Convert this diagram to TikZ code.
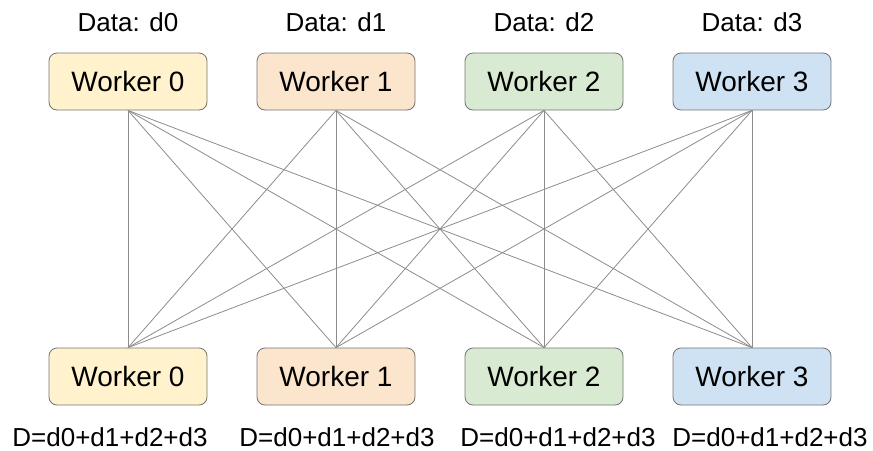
\documentclass[tikz,border=0pt]{standalone}
\usepackage{fontspec}
\setmainfont{Liberation Sans}
\definecolor{c0}{HTML}{FFF2CC}
\definecolor{c1}{HTML}{FCE5CD}
\definecolor{c2}{HTML}{D9EAD3}
\definecolor{c3}{HTML}{CFE2F3}
\begin{document}
\begin{tikzpicture}[x=0.5pt, y=-0.5pt, w/.style={draw=black!55, rounded corners=4pt, minimum width=79pt, minimum height=28.5pt, inner sep=0pt, font=\fontsize{14}{16}\selectfont}]
        \useasboundingbox (0,0) rectangle (873,450);
        \foreach \i in {0,...,3} {
          \node[w, fill=c\i] (top\i) at (128+208*\i,81.5) {Worker \i};
          \node[font=\fontsize{13}{15}\selectfont] (data\i) at (128+208*\i,22) {Data: d\i};
          \node[w, fill=c\i] (bot\i) at (128+208*\i,376.5) {Worker \i};
        }
        \foreach \x [count=\i from 0] in {110,337,558,770}
          \node[font=\fontsize{13}{15}\selectfont] (sum\i) at (\x,437) {D=d0+d1+d2+d3};
        \foreach \i in {0,...,3} \foreach \j in {0,...,3}
          \draw[black!45, line width=0.4pt] (top\i.south) -- (bot\j.north);
      \end{tikzpicture}
\end{document}
